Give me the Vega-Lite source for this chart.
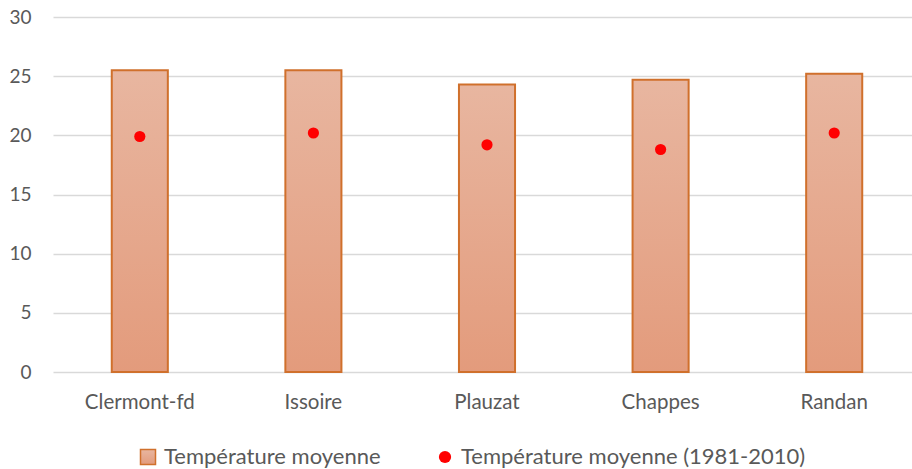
{
  "$schema": "https://vega.github.io/schema/vega-lite/v6.json",
  "width": 868,
  "height": 355,
  "autosize": "none",
  "padding": {"left": 53, "top": 17, "right": 0, "bottom": 97},
  "config": {"view": {"stroke": null}, "font": "Lato"},
  "data": {
    "values": [
      {"station": "Clermont-fd", "moyenne": 25.5, "normale": 19.9},
      {"station": "Issoire", "moyenne": 25.5, "normale": 20.2},
      {"station": "Plauzat", "moyenne": 24.3, "normale": 19.2},
      {"station": "Chappes", "moyenne": 24.7, "normale": 18.8},
      {"station": "Randan", "moyenne": 25.2, "normale": 20.2}
    ]
  },
  "encoding": {
    "x": {
      "field": "station",
      "type": "nominal",
      "sort": null,
      "scale": {"paddingInner": 0.677, "paddingOuter": 0.3385},
      "axis": {
        "title": null,
        "domain": false,
        "ticks": false,
        "labelAngle": 0,
        "labelFont": "Lato",
        "labelFontSize": 20.5,
        "labelColor": "#595959",
        "labelPadding": 20
      }
    }
  },
  "layer": [
    {
      "mark": {
        "type": "bar",
        "strokeWidth": 2,
        "fill": {
          "gradient": "linear",
          "x1": 0, "y1": 0, "x2": 0, "y2": 1,
          "stops": [
            {"offset": 0, "color": "#E8B6A0"},
            {"offset": 1, "color": "#E39B7C"}
          ]
        }
      },
      "encoding": {
        "y": {
          "field": "moyenne",
          "type": "quantitative",
          "scale": {"domain": [0, 30]},
          "axis": {
            "title": null,
            "values": [0, 5, 10, 15, 20, 25, 30],
            "domain": false,
            "ticks": false,
            "gridColor": "#D9D9D9",
            "gridWidth": 1.5,
            "labelFont": "Lato",
            "labelFontSize": 19,
            "labelColor": "#595959",
            "labelPadding": 22
          }
        },
        "stroke": {
          "datum": "Température moyenne",
          "type": "nominal",
          "scale": {"domain": ["Température moyenne"], "range": ["#D0702C"]},
          "legend": {
            "title": null,
            "orient": "none",
            "legendX": 84,
            "legendY": 429,
            "padding": 0,
            "labelFont": "Lato",
            "labelFontSize": 22,
            "labelColor": "#595959",
            "labelOffset": 5,
            "labelLimit": 0,
            "symbolType": "square",
            "symbolSize": 225,
            "symbolFillColor": "#E6AC92",
            "symbolOpacity": 1,
            "symbolStrokeWidth": 1.5
          }
        }
      }
    },
    {
      "mark": {"type": "point", "filled": true, "size": 125, "opacity": 1, "strokeWidth": 0},
      "encoding": {
        "y": {"field": "normale", "type": "quantitative"},
        "fill": {
          "datum": "Température moyenne (1981-2010)",
          "type": "nominal",
          "scale": {"domain": ["Température moyenne (1981-2010)"], "range": ["#FF0000"]},
          "legend": {
            "title": null,
            "orient": "none",
            "legendX": 381,
            "legendY": 429,
            "padding": 0,
            "labelFont": "Lato",
            "labelFontSize": 22,
            "labelColor": "#595959",
            "labelOffset": 5,
            "labelLimit": 0,
            "symbolType": "circle",
            "symbolSize": 150,
            "symbolOpacity": 1,
            "symbolStrokeWidth": 0
          }
        }
      }
    }
  ]
}
